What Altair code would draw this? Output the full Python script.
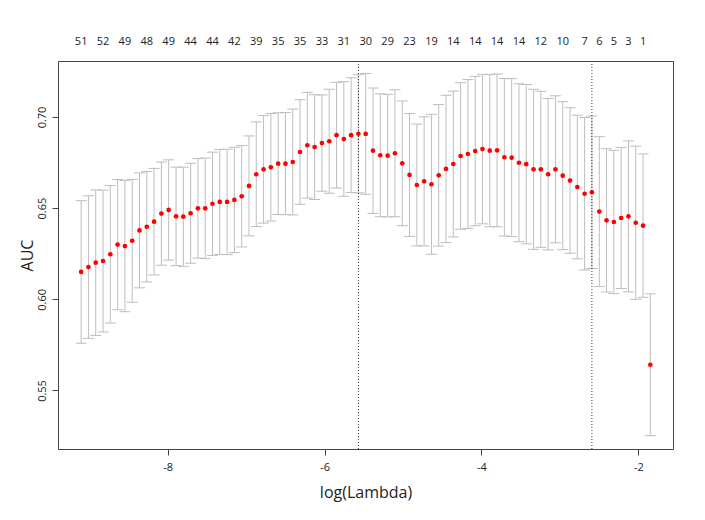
import altair as alt
import pandas as pd

# log(lambda) of each cross-validated model
log_lambda = [-9.104, -9.011, -8.918, -8.825, -8.732, -8.639, -8.546, -8.453, -8.360, -8.267,
              -8.174, -8.081, -7.988, -7.894, -7.801, -7.708, -7.615, -7.522, -7.429, -7.336,
              -7.243, -7.150, -7.057, -6.964, -6.871, -6.778, -6.685, -6.592, -6.499, -6.406,
              -6.313, -6.220, -6.127, -6.034, -5.941, -5.848, -5.755, -5.662, -5.569, -5.476,
              -5.383, -5.290, -5.196, -5.103, -5.010, -4.917, -4.824, -4.731, -4.638, -4.545,
              -4.452, -4.359, -4.266, -4.173, -4.080, -3.987, -3.894, -3.801, -3.708, -3.615,
              -3.522, -3.429, -3.336, -3.243, -3.150, -3.057, -2.964, -2.871, -2.778, -2.685,
              -2.592, -2.498, -2.405, -2.312, -2.219, -2.126, -2.033, -1.940, -1.847]

# mean cross-validated AUC
auc_mean = [0.6150, 0.6177, 0.6201, 0.6210, 0.6247, 0.6300, 0.6292, 0.6321, 0.6378, 0.6398,
            0.6426, 0.6470, 0.6490, 0.6455, 0.6453, 0.6472, 0.6499, 0.6499, 0.6524, 0.6534,
            0.6534, 0.6545, 0.6565, 0.6622, 0.6686, 0.6713, 0.6724, 0.6744, 0.6744, 0.6753,
            0.6808, 0.6845, 0.6835, 0.6857, 0.6867, 0.6900, 0.6879, 0.6900, 0.6908, 0.6907,
            0.6815, 0.6790, 0.6788, 0.6801, 0.6746, 0.6682, 0.6627, 0.6647, 0.6631, 0.6680,
            0.6715, 0.6742, 0.6786, 0.6797, 0.6813, 0.6824, 0.6815, 0.6817, 0.6779, 0.6777,
            0.6749, 0.6741, 0.6713, 0.6713, 0.6686, 0.6713, 0.6678, 0.6651, 0.6616, 0.6579,
            0.6587, 0.6481, 0.6433, 0.6424, 0.6446, 0.6455, 0.6420, 0.6404, 0.5641]

# standard error of the AUC (half length of each bar)
auc_sd = [0.0391, 0.0391, 0.0399, 0.0389, 0.0377, 0.0357, 0.0360, 0.0337, 0.0315, 0.0303,
          0.0292, 0.0283, 0.0275, 0.0270, 0.0272, 0.0274, 0.0273, 0.0276, 0.0283, 0.0288,
          0.0289, 0.0289, 0.0278, 0.0274, 0.0287, 0.0295, 0.0295, 0.0279, 0.0280, 0.0290,
          0.0287, 0.0290, 0.0287, 0.0264, 0.0285, 0.0290, 0.0314, 0.0315, 0.0324, 0.0331,
          0.0344, 0.0337, 0.0336, 0.0348, 0.0342, 0.0337, 0.0334, 0.0354, 0.0384, 0.0388,
          0.0404, 0.0400, 0.0402, 0.0408, 0.0410, 0.0410, 0.0417, 0.0419, 0.0432, 0.0433,
          0.0433, 0.0437, 0.0439, 0.0428, 0.0415, 0.0403, 0.0406, 0.0399, 0.0394, 0.0418,
          0.0418, 0.0411, 0.0393, 0.0393, 0.0387, 0.0414, 0.0420, 0.0393, 0.0389]

# number of non-zero coefficients shown along the top
nz_at = [0, 3, 6, 9, 12, 15, 18, 21, 24, 27, 30, 33, 36, 39, 42, 45, 48, 51, 54, 57,
         60, 63, 66, 69, 71, 73, 75, 77]
nz_labels = ["51", "52", "49", "48", "49", "44", "44", "42", "39", "35", "35", "33", "31", "30",
             "29", "23", "19", "14", "14", "14", "14", "12", "10", "7", "6", "5", "3", "1"]

# lambda.min and lambda.1se
vlines = [-5.569, -2.592]

x_ticks = [-8, -6, -4, -2]
y_ticks = [0.55, 0.60, 0.65, 0.70]

FONT = "Open Sans"

df = pd.DataFrame({"x": log_lambda, "m": auc_mean, "sd": auc_sd})
df["lo"] = df["m"] - df["sd"]
df["hi"] = df["m"] + df["sd"]

top_df = pd.DataFrame({"x": [log_lambda[i] for i in nz_at], "t": nz_labels})
vl_df = pd.DataFrame({"v": vlines})

xs = alt.Scale(domain=[-9.399, -1.558], nice=False, zero=False)
ys = alt.Scale(domain=[0.5179, 0.7307], nice=False, zero=False)

x_axis = alt.Axis(title="log(Lambda)", values=x_ticks, labelExpr="'' + datum.value",
                  grid=False, domain=False,
                  tickSize=6, tickColor="#444", labelPadding=6, labelFontSize=11,
                  labelColor="#222", titleFontSize=16, titleFontWeight="normal",
                  titleColor="#222", titlePadding=12, labelFont=FONT, titleFont=FONT)
y_axis = alt.Axis(title="AUC", values=y_ticks, format=".2f", grid=False, domain=False,
                  tickSize=6, tickColor="#444", labelAngle=-90, labelAlign="center",
                  labelBaseline="bottom", labelPadding=5, labelFontSize=11,
                  labelColor="#222", titleFontSize=16, titleFontWeight="normal",
                  titleColor="#222", titlePadding=1, labelFont=FONT, titleFont=FONT)

base = alt.Chart(df)
bars = base.mark_rule(color="#BDBDBD", strokeWidth=1).encode(
    x=alt.X("x:Q", scale=xs, axis=x_axis),
    y=alt.Y("lo:Q", scale=ys, axis=y_axis),
    y2="hi:Q",
)
cap_hi = base.mark_tick(orient="horizontal", size=11, thickness=1, color="#BDBDBD", opacity=1).encode(
    x=alt.X("x:Q", scale=xs), y=alt.Y("hi:Q", scale=ys))
cap_lo = base.mark_tick(orient="horizontal", size=11, thickness=1, color="#BDBDBD", opacity=1).encode(
    x=alt.X("x:Q", scale=xs), y=alt.Y("lo:Q", scale=ys))
pts = base.mark_circle(color="#FF0000", size=22, opacity=1).encode(
    x=alt.X("x:Q", scale=xs), y=alt.Y("m:Q", scale=ys))
vl = alt.Chart(vl_df).mark_rule(color="#333", strokeDash=[1, 2], strokeWidth=1).encode(
    x=alt.X("v:Q", scale=xs))
top = alt.Chart(top_df).mark_text(font=FONT, fontSize=11, color="#222", baseline="middle").encode(
    x=alt.X("x:Q", scale=xs), y=alt.value(-19), text="t:N")

chart = alt.layer(bars, cap_hi, cap_lo, pts, vl, top).properties(
    width=615, height=388,
    autosize=alt.AutoSizeParams(type="none"),
    padding={"left": 50, "top": 53, "right": 24, "bottom": 63},
    background="white",
).configure_view(stroke="#444", strokeWidth=1)

chart.save("out.html", embed_options={"renderer": "svg", "actions": False})
